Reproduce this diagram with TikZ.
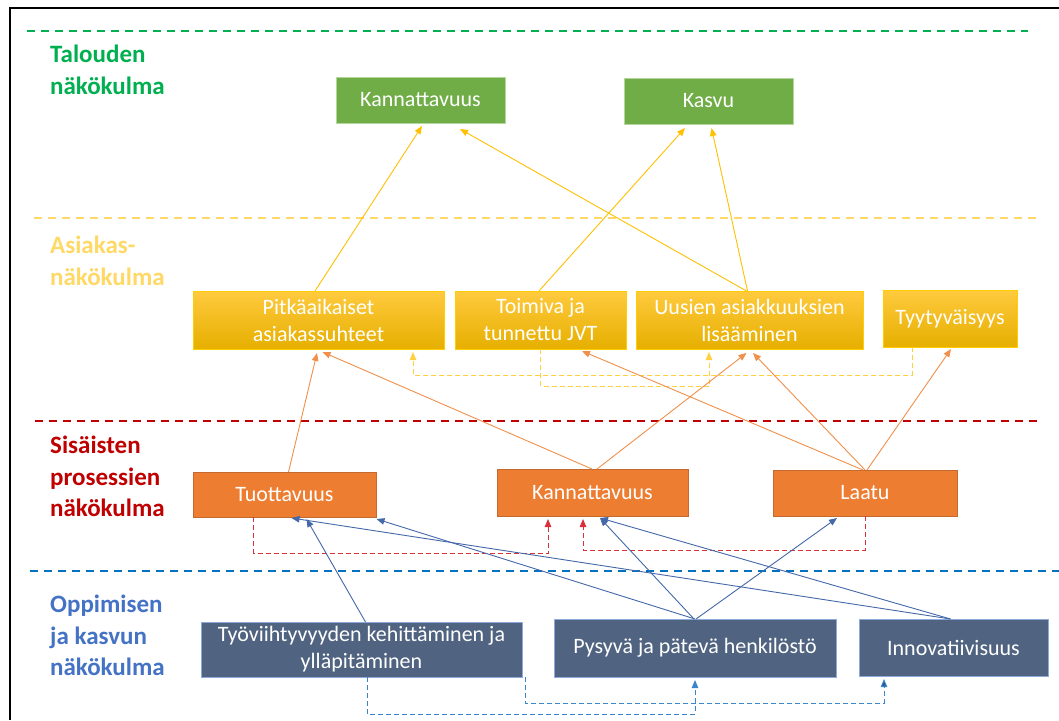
\documentclass[tikz,border=0pt]{standalone}
\usepackage{fontspec}
\setmainfont{Carlito}
\usetikzlibrary{arrows.meta}

\definecolor{secgreen}{HTML}{00B050}
\definecolor{secyellow}{HTML}{FFD966}
\definecolor{secred}{HTML}{C00000}
\definecolor{secblue}{HTML}{0070C0}
\definecolor{lblblue}{HTML}{4472C4}
\definecolor{boxgreen}{HTML}{70AD47}
\definecolor{boxgreenline}{HTML}{B5D69C}
\definecolor{boxorange}{HTML}{ED7D31}
\definecolor{boxorangeline}{HTML}{C46A30}
\definecolor{boxslate}{HTML}{506481}
\definecolor{boxslateline}{HTML}{8EA9DB}
\definecolor{gold}{HTML}{FFC000}
\definecolor{goldtop}{HTML}{FFCA3E}
\definecolor{goldbot}{HTML}{E6AF00}
\definecolor{linkorange}{HTML}{F0904A}
\definecolor{linkred}{HTML}{D9303A}
\definecolor{linkblue}{HTML}{4468A8}
\definecolor{linklightblue}{HTML}{3A86CC}
\definecolor{linknavy}{HTML}{2F5597}

\tikzset{
  x=1pt, y=-1pt,
  box/.style={inner sep=0pt, outer sep=0pt, align=center, text=white,
    font=\fontsize{22}{27}\selectfont},
  fbox/.style={box, fill=boxgreen, draw=boxgreenline, line width=1pt},
  cbox/.style={box, top color=goldtop, middle color=gold, bottom color=goldbot,
    draw=gold!80!yellow, line width=1pt},
  pbox/.style={box, fill=boxorange, draw=boxorangeline, line width=1pt},
  lbox/.style={box, fill=boxslate, draw=boxslateline, line width=1pt},
  seclabel/.style={anchor=north west, inner sep=0pt, align=left,
    font=\fontsize{25}{31.5}\selectfont\bfseries},
  sep/.style={line width=2.2pt, dash pattern=on 8pt off 6pt},
  tip/.style={-{Triangle[length=8pt,width=6.5pt]}},
  link/.style={tip, line width=0.9pt},
  dlink/.style={tip, line width=0.9pt, dash pattern=on 5pt off 3pt},
}

\begin{document}
\begin{tikzpicture}
\useasboundingbox (0,0) rectangle (1059,720);
\fill[white] (0,0) rectangle (1059,720);

% outer frame
\draw[line width=1.6pt, black] (1059,8) -- (10,8) -- (10,720);

% perspective separators
\draw[sep, secgreen]  (27,31)  -- (1028,31);
\draw[sep, secyellow] (34,218) -- (1036,218);
\draw[sep, secred]    (35,421) -- (1037,421);
\draw[sep, secblue]   (30,571) -- (1059,571);

% perspective labels
\node[seclabel, text=secgreen]  (lfin) at (50,45)  {Talouden\\näkökulma};
\node[seclabel, text=secyellow] (lcus) at (50,236) {Asiakas-\\näkökulma};
\node[seclabel, text=secred]    (lint) at (50,436) {Sisäisten\\prosessien\\näkökulma};
\node[seclabel, text=lblblue]   (llrn) at (50,595) {Oppimisen\\ja kasvun\\näkökulma};

% financial perspective
\node[fbox, minimum width=169pt, minimum height=46pt] (kanT)  at (420.5,100) {Kannattavuus};
\node[fbox, minimum width=169pt, minimum height=46pt] (kasvu) at (708.5,101) {Kasvu};

% customer perspective
\node[cbox, minimum width=251pt, minimum height=58pt] (pit) at (318.5,320) {Pitkäaikaiset\\asiakassuhteet};
\node[cbox, minimum width=171pt, minimum height=58pt] (toi) at (540.5,320) {Toimiva ja\\tunnettu JVT};
\node[cbox, minimum width=227pt, minimum height=58pt] (uus) at (749.5,320) {Uusien asiakkuuksien\\lisääminen};
\node[cbox, minimum width=134pt, minimum height=57pt] (tyy) at (950,318.5) {Tyytyväisyys};

% internal process perspective
\node[pbox, minimum width=183pt, minimum height=45pt] (tuo)  at (284.5,494.5) {Tuottavuus};
\node[pbox, minimum width=191pt, minimum height=47pt] (kanS) at (592.5,492.5) {Kannattavuus};
\node[pbox, minimum width=184pt, minimum height=46pt] (laa)  at (865,493) {Laatu};

% learning and growth perspective
\node[lbox, minimum width=321pt, minimum height=55pt] (tyo) at (361.5,649.5) {Työviihtyvyyden kehittäminen ja\\ylläpitäminen};
\node[lbox, minimum width=282pt, minimum height=58pt] (pys) at (695,648) {Pysyvä ja pätevä henkilöstö};
\node[lbox, minimum width=189pt, minimum height=57pt] (inn) at (953.5,647.5) {Innovatiivisuus};

% customer -> financial
\draw[link, gold] ([xshift=-3.5pt]pit.north) -- ([xshift=1.5pt,yshift=-3pt]kanT.south);
\draw[link, gold] ([xshift=-3pt]uus.north)   -- ([xshift=39.5pt,yshift=-6pt]kanT.south);
\draw[link, gold] ([xshift=-1.5pt]toi.north) -- ([xshift=-23.5pt,yshift=-4pt]kasvu.south);
\draw[link, gold] ([xshift=-2pt]uus.north)   -- ([xshift=3pt,yshift=-4pt]kasvu.south);

% links inside the customer perspective
\draw[dlink, gold!75] ([xshift=-38pt]tyy.south) -- ++(0,28) -| ([xshift=94.5pt,yshift=-3pt]pit.south);
\draw[dlink, gold!75] (toi.south) -- ++(0,37) -| ([xshift=-40.5pt,yshift=-3pt]uus.south);

% internal -> customer
\draw[link, linkorange] ([xshift=4pt]tuo.north)    -- ([xshift=-1.5pt,yshift=-4pt]pit.south);
\draw[link, linkorange] ([xshift=-0.5pt]kanS.north) -- ([xshift=4pt,yshift=-3pt]pit.south);
\draw[link, linkorange] ([xshift=4.5pt]kanS.north)  -- ([xshift=-3pt,yshift=-4pt]uus.south);
\draw[link, linkorange] ([xshift=-2pt]laa.north)    -- ([xshift=41.5pt,yshift=-2pt]toi.south);
\draw[link, linkorange] (laa.north)                 -- ([xshift=3.5pt,yshift=-4pt]uus.south);
\draw[link, linkorange] ([xshift=2pt]laa.north)     -- ([xshift=1pt,yshift=-2pt]tyy.south);

% links inside the internal perspective
\draw[dlink, linkred] ([xshift=-31pt]tuo.south) -- ++(0,36) -| ([xshift=-44.5pt,yshift=-3pt]kanS.south);
\draw[dlink, linkred] (laa.south) -- ++(0,34) -| ([xshift=-9.5pt,yshift=-3pt]kanS.south);

% learning -> internal
\draw[link, linkblue] ([xshift=4pt]tyo.north)  -- ([xshift=22pt,yshift=-2pt]tuo.south);
\draw[link, linkblue] (pys.north)              -- ([xshift=92pt,yshift=-2pt]tuo.south);
\draw[link, linkblue] ([xshift=-1pt]pys.north) -- ([xshift=7.5pt,yshift=-2pt]kanS.south);
\draw[link, linkblue] ([xshift=1pt]pys.north)  -- ([xshift=-28pt,yshift=-2pt]laa.south);
\draw[link, linkblue] ([xshift=-3pt]inn.north) -- ([xshift=7pt,yshift=-1pt]tuo.south);
\draw[link, linkblue] ([xshift=-3pt]inn.north) -- ([xshift=7.5pt,yshift=-2pt]kanS.south);

% links inside the learning perspective
\draw[dlink, linklightblue] ([xshift=5.5pt]tyo.south) -- ++(0,37) -| ([yshift=-3pt]pys.south);
\draw[dlink, linklightblue, -{Triangle[length=8pt,width=6.5pt,fill=linknavy]}]
  ([xshift=163.5pt]tyo.south) -- ++(0,26) -| ([xshift=-69.5pt,yshift=-3pt]inn.south);
\end{tikzpicture}
\end{document}
